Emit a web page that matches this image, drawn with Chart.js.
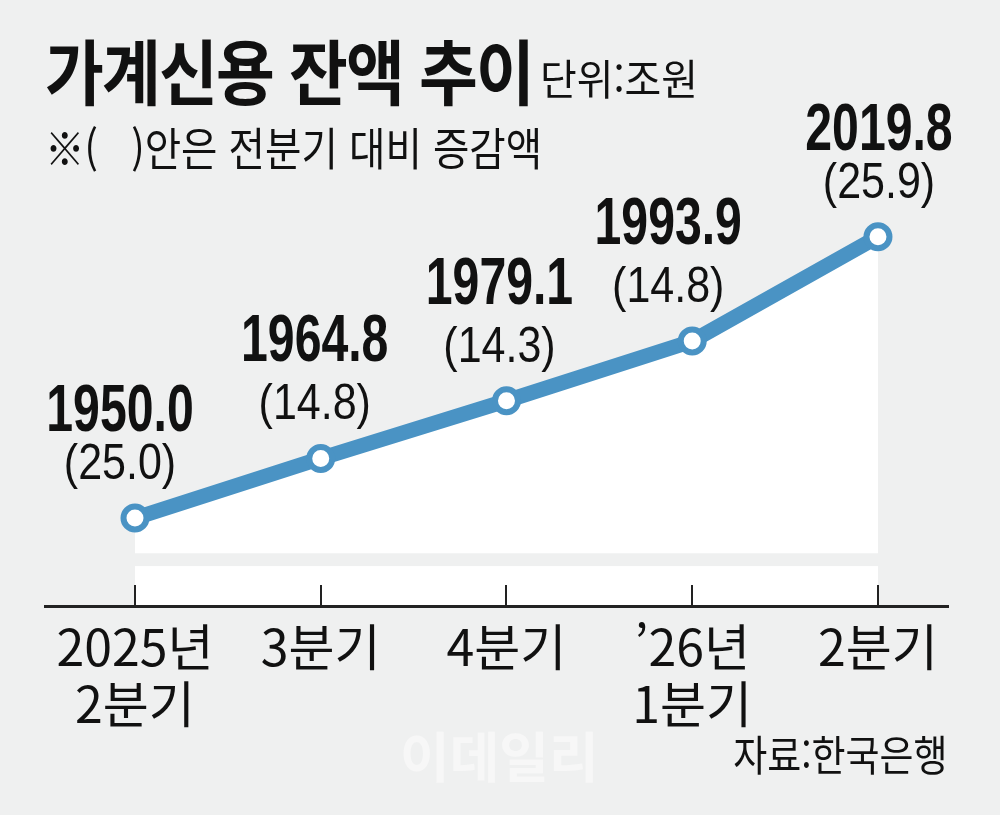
<!DOCTYPE html>
<html lang="ko">
<head>
    <meta charset="UTF-8">
    <title>가계신용 잔액 추이</title>
    <style>
        body {
            margin: 0;
            padding: 0;
            background-color: #eff0f0;
        }

        #wrap {
            position: relative;
            width: 1000px;
            height: 815px;
            overflow: hidden;
            background-color: #eff0f0;
            font-family: "Noto Sans CJK KR", sans-serif;
            color: #111;
        }

        #chart {
            position: absolute;
            left: 0;
            top: 0;
        }

        .txt {
            position: absolute;
            white-space: nowrap;
            line-height: 1;
        }

        #title {
            left: 45px;
            top: 33px;
            font-size: 71px;
            font-weight: bold;
            letter-spacing: -2px;
            transform: scaleX(0.9);
            transform-origin: left top;
        }

        #unit {
            left: 540px;
            top: 56px;
            font-size: 42px;
            transform: scaleX(0.95);
            transform-origin: left top;
        }

        #note {
            left: 45px;
            top: 124px;
            font-size: 45px;
            transform: scaleX(0.88);
            transform-origin: left top;
        }

        #source {
            right: 52px;
            top: 732px;
            font-size: 42px;
            transform: scaleX(0.88);
            transform-origin: right top;
        }

        #mark {
            left: 400px;
            top: 728px;
            font-size: 54px;
            font-weight: bold;
            color: #f7f7f7;
        }
    </style>
    <script src="https://cdn.jsdelivr.net/npm/chart.js"></script>
</head>
<body>

<div id="wrap">
    <div class="txt" id="mark">이데일리</div>
    <canvas id="chart" width="1000" height="815"></canvas>
    <div class="txt" id="title">가계신용 잔액 추이</div>
    <div class="txt" id="unit">단위:조원</div>
    <div class="txt" id="note">※(&nbsp;&nbsp;&nbsp;)안은 전분기 대비 증감액</div>
    <div class="txt" id="source">자료:한국은행</div>
</div>

<script>
    // 분기별 가계신용 잔액 (조원)
    const quarters = [['2025년', '2분기'], '3분기', '4분기', ['\u201926년', '1분기'], '2분기'];
    const balance = [1950.0, 1964.8, 1979.1, 1993.9, 2019.8];
    const change = [25.0, 14.8, 14.3, 14.8, 25.9];

    const blue = '#4a93c4';
    const latin = '"Liberation Sans", "Noto Sans CJK KR", sans-serif';

    // white band below the axis break (drawn before the axis so tick marks stay on top)
    const breakBand = {
        id: 'breakBand',
        beforeDraw(chart) {
            const { ctx, chartArea, scales } = chart;
            const x0 = scales.x.getPixelForValue(0);
            const x1 = scales.x.getPixelForValue(balance.length - 1);
            const y0 = scales.y.getPixelForValue(1938.1);
            ctx.save();
            ctx.fillStyle = '#fff';
            ctx.fillRect(x0, y0, x1 - x0, chartArea.bottom - y0);
            ctx.restore();
        }
    };

    function squeezedText(ctx, text, x, y, sx) {
        ctx.save();
        ctx.translate(x, y);
        ctx.scale(sx, 1);
        ctx.fillText(text, 0, 0);
        ctx.restore();
    }

    // value + change labels above points
    const pointLabels = {
        id: 'pointLabels',
        afterDatasetsDraw(chart) {
            const ctx = chart.ctx;
            const pts = chart.getDatasetMeta(0).data;
            const dx = [-15, -6, -7, -24, 1];
            const dyValue = [-87, -97, -97, -97, -87];
            ctx.save();
            ctx.fillStyle = '#111';
            ctx.textAlign = 'center';
            ctx.textBaseline = 'alphabetic';
            pts.forEach((p, i) => {
                ctx.font = 'bold 66px ' + latin;
                squeezedText(ctx, balance[i].toFixed(1), p.x + dx[i], p.y + dyValue[i], 0.73);
                ctx.font = '50px ' + latin;
                squeezedText(ctx, '(' + change[i].toFixed(1) + ')', p.x + dx[i], p.y - 39, 0.86);
            });
            ctx.restore();
        }
    };

    const ctx = document.getElementById('chart').getContext('2d');
    new Chart(ctx, {
        type: 'line',
        data: {
            datasets: [{
                data: balance.map((v, i) => ({ x: i, y: v })),
                borderColor: blue,
                borderWidth: 15,
                backgroundColor: '#fff',
                fill: { value: 1941.3 },
                pointRadius: 11.5,
                pointBorderWidth: 6,
                pointBackgroundColor: '#fff',
                pointBorderColor: blue,
                tension: 0
            }]
        },
        options: {
            responsive: false,
            animation: false,
            devicePixelRatio: 1,
            layout: {
                padding: { left: 45, right: 52, top: 100, bottom: 50 }
            },
            plugins: {
                legend: { display: false },
                tooltip: { enabled: false }
            },
            scales: {
                x: {
                    type: 'linear',
                    min: -0.4845,
                    max: 4.377,
                    afterBuildTicks(scale) {
                        scale.ticks = quarters.map((_, i) => ({ value: i }));
                    },
                    ticks: {
                        autoSkip: false,
                        maxRotation: 0,
                        padding: 33,
                        color: '#111',
                        font: { family: '"Noto Sans CJK KR", sans-serif', size: 50, lineHeight: 1.14 },
                        callback: (v) => quarters[v]
                    },
                    grid: {
                        drawOnChartArea: false,
                        drawTicks: true,
                        tickLength: -21,
                        color: '#222',
                        lineWidth: 2
                    },
                    border: { display: true, color: '#222', width: 3 }
                },
                y: {
                    display: false,
                    min: 1928.2,
                    max: 2053.7
                }
            }
        },
        plugins: [breakBand, pointLabels]
    });
</script>
</body>
</html>
